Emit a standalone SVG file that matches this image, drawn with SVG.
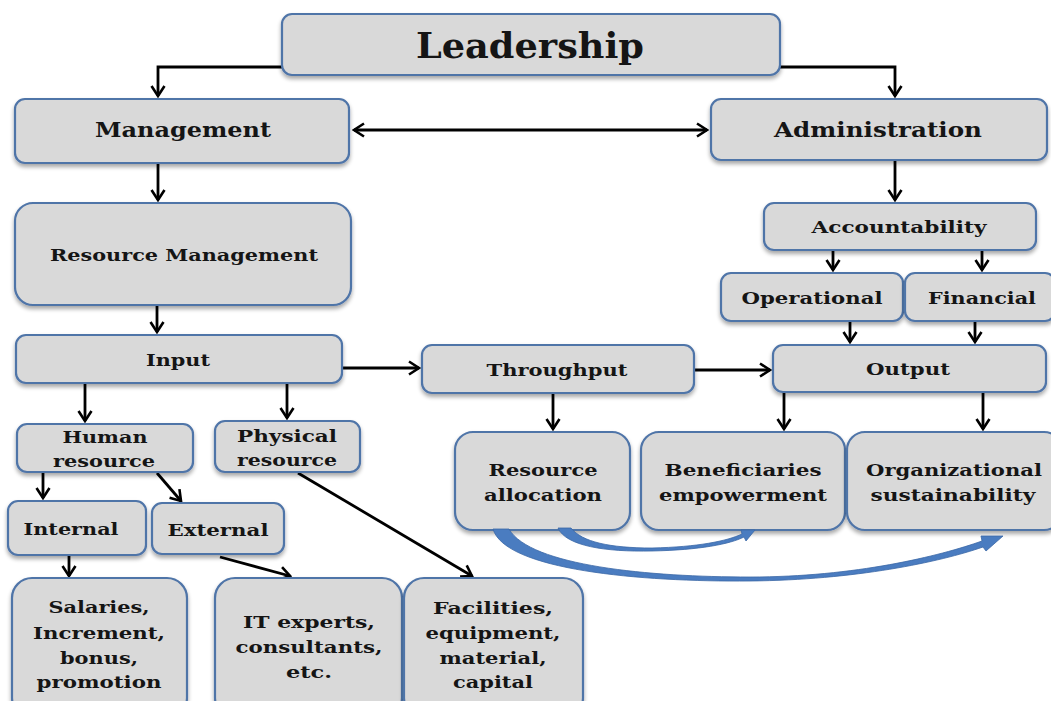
<svg xmlns="http://www.w3.org/2000/svg" width="1051" height="701" viewBox="0 0 1051 701">
  <defs>
    <marker id="arr" viewBox="-12 -8 14 16" markerWidth="14" markerHeight="16" refX="0" refY="0" orient="auto-start-reverse" markerUnits="userSpaceOnUse">
      <path d="M-10,-6.5 L0,0 L-10,6.5" fill="none" stroke="#000" stroke-width="2.6" stroke-linejoin="miter"/>
    </marker>
    <filter id="shadow" x="-5%" y="-10%" width="110%" height="130%">
      <feGaussianBlur in="SourceAlpha" stdDeviation="2"/>
      <feOffset dx="0" dy="2.5" result="b"/>
      <feComponentTransfer><feFuncA type="linear" slope="0.35"/></feComponentTransfer>
      <feMerge><feMergeNode/><feMergeNode in="SourceGraphic"/></feMerge>
    </filter>
  </defs>
  <style>
    .box { fill: #d9d9d9; stroke: #4f74a8; stroke-width: 2.2; filter: url(#shadow); }
    .t { font-family: "DejaVu Serif", "Liberation Serif", serif; font-weight: bold; font-size: 17px; fill: #151515; text-anchor: middle; dominant-baseline: central; }
    .big { font-size: 20px; }
    .title { font-size: 36px; }
    .c { fill: none; stroke: #000; stroke-width: 2.8; marker-end: url(#arr); }
    .flow { fill: #4a7cc0; stroke: #3a67a6; stroke-width: 0.8; }
  </style>

  <rect width="1051" height="701" fill="#fff"/>

  <!-- connectors -->
  <g id="connectors">
    <polyline class="c" points="282,67 158,67 158,96"/>
    <polyline class="c" points="780,67 895,67 895,96"/>
    <line class="c" x1="354" y1="130" x2="707" y2="130" marker-start="url(#arr)"/>
    <line class="c" x1="158" y1="163" x2="158" y2="200"/>
    <line class="c" x1="895" y1="160" x2="895" y2="200"/>
    <line class="c" x1="157" y1="305" x2="157" y2="332"/>
    <line class="c" x1="342" y1="368" x2="419" y2="368"/>
    <line class="c" x1="694" y1="370" x2="770" y2="370"/>
    <line class="c" x1="85" y1="383" x2="85" y2="421"/>
    <line class="c" x1="287" y1="383" x2="287" y2="418"/>
    <line class="c" x1="43" y1="472" x2="43" y2="498"/>
    <line class="c" x1="157" y1="473" x2="181" y2="501"/>
    <line class="c" x1="69" y1="555" x2="69" y2="576"/>
    <line class="c" x1="220" y1="557" x2="290" y2="576"/>
    <line class="c" x1="298" y1="473" x2="472" y2="576"/>
    <line class="c" x1="833" y1="250" x2="833" y2="270"/>
    <line class="c" x1="982" y1="250" x2="982" y2="270"/>
    <line class="c" x1="850" y1="321" x2="850" y2="342"/>
    <line class="c" x1="975" y1="321" x2="975" y2="342"/>
    <line class="c" x1="553" y1="393" x2="553" y2="429"/>
    <line class="c" x1="784" y1="392" x2="784" y2="429"/>
    <line class="c" x1="983" y1="392" x2="983" y2="429"/>
  </g>

  <!-- nodes -->
  <g id="leadership"><rect class="box" x="282" y="14" width="498" height="61" rx="10"/><text class="t title" x="530" y="45" textLength="228" lengthAdjust="spacingAndGlyphs">Leadership</text></g>
  <g id="management"><rect class="box" x="15" y="99" width="334" height="64" rx="10"/><text class="t big" x="183" y="130" textLength="176" lengthAdjust="spacingAndGlyphs">Management</text></g>
  <g id="administration"><rect class="box" x="711" y="99" width="336" height="61" rx="10"/><text class="t big" x="878" y="130" textLength="208" lengthAdjust="spacingAndGlyphs">Administration</text></g>
  <g id="resource-management"><rect class="box" x="15" y="203" width="336" height="102" rx="18"/><text class="t" x="184" y="255" textLength="268" lengthAdjust="spacingAndGlyphs">Resource Management</text></g>
  <g id="input"><rect class="box" x="16" y="335" width="326" height="48" rx="10"/><text class="t" x="178" y="360" textLength="64" lengthAdjust="spacingAndGlyphs">Input</text></g>
  <g id="throughput"><rect class="box" x="422" y="345" width="272" height="48" rx="10"/><text class="t" x="557" y="370" textLength="141" lengthAdjust="spacingAndGlyphs">Throughput</text></g>
  <g id="output"><rect class="box" x="773" y="345" width="273" height="47" rx="10"/><text class="t" x="908" y="369" textLength="84" lengthAdjust="spacingAndGlyphs">Output</text></g>
  <g id="accountability"><rect class="box" x="764" y="203" width="272" height="47" rx="10"/><text class="t" x="899" y="227" textLength="175" lengthAdjust="spacingAndGlyphs">Accountability</text></g>
  <g id="operational"><rect class="box" x="721" y="273" width="182" height="48" rx="10"/><text class="t" x="812" y="298" textLength="141" lengthAdjust="spacingAndGlyphs">Operational</text></g>
  <g id="financial"><rect class="box" x="905" y="273" width="150" height="48" rx="10"/><text class="t" x="982" y="298" textLength="108" lengthAdjust="spacingAndGlyphs">Financial</text></g>
  <g id="human-resource"><rect class="box" x="17" y="424" width="176" height="48" rx="10"/><text class="t" x="105" y="437" textLength="85" lengthAdjust="spacingAndGlyphs">Human</text><text class="t" x="104" y="461" textLength="102" lengthAdjust="spacingAndGlyphs">resource</text></g>
  <g id="physical-resource"><rect class="box" x="215" y="421" width="145" height="51" rx="10"/><text class="t" x="287" y="436" textLength="100" lengthAdjust="spacingAndGlyphs">Physical</text><text class="t" x="287" y="460" textLength="100" lengthAdjust="spacingAndGlyphs">resource</text></g>
  <g id="internal"><rect class="box" x="8" y="501" width="138" height="54" rx="10"/><text class="t" x="71" y="529" textLength="95" lengthAdjust="spacingAndGlyphs">Internal</text></g>
  <g id="external"><rect class="box" x="152" y="503" width="132" height="51" rx="10"/><text class="t" x="218" y="530" textLength="101" lengthAdjust="spacingAndGlyphs">External</text></g>
  <g id="salaries"><rect class="box" x="12" y="578" width="175" height="140" rx="20"/><text class="t" x="99" y="607" textLength="101" lengthAdjust="spacingAndGlyphs">Salaries,</text><text class="t" x="99" y="633" textLength="132" lengthAdjust="spacingAndGlyphs">Increment,</text><text class="t" x="99" y="658" textLength="78" lengthAdjust="spacingAndGlyphs">bonus,</text><text class="t" x="99" y="682" textLength="125" lengthAdjust="spacingAndGlyphs">promotion</text></g>
  <g id="it-experts"><rect class="box" x="215" y="578" width="187" height="140" rx="20"/><text class="t" x="309" y="622" textLength="132" lengthAdjust="spacingAndGlyphs">IT experts,</text><text class="t" x="309" y="647" textLength="147" lengthAdjust="spacingAndGlyphs">consultants,</text><text class="t" x="309" y="672" textLength="46" lengthAdjust="spacingAndGlyphs">etc.</text></g>
  <g id="facilities"><rect class="box" x="404" y="578" width="179" height="140" rx="20"/><text class="t" x="493" y="608" textLength="120" lengthAdjust="spacingAndGlyphs">Facilities,</text><text class="t" x="493" y="633" textLength="135" lengthAdjust="spacingAndGlyphs">equipment,</text><text class="t" x="493" y="658" textLength="107" lengthAdjust="spacingAndGlyphs">material,</text><text class="t" x="493" y="682" textLength="80" lengthAdjust="spacingAndGlyphs">capital</text></g>
  <g id="resource-allocation"><rect class="box" x="455" y="432" width="175" height="98" rx="18"/><text class="t" x="543" y="470" textLength="109" lengthAdjust="spacingAndGlyphs">Resource</text><text class="t" x="543" y="495" textLength="118" lengthAdjust="spacingAndGlyphs">allocation</text></g>
  <g id="beneficiaries"><rect class="box" x="641" y="432" width="204" height="98" rx="18"/><text class="t" x="743" y="470" textLength="157" lengthAdjust="spacingAndGlyphs">Beneficiaries</text><text class="t" x="743" y="495" textLength="168" lengthAdjust="spacingAndGlyphs">empowerment</text></g>
  <g id="organizational"><rect class="box" x="847" y="432" width="215" height="98" rx="18"/><text class="t" x="954" y="470" textLength="176" lengthAdjust="spacingAndGlyphs">Organizational</text><text class="t" x="953" y="495" textLength="165" lengthAdjust="spacingAndGlyphs">sustainability</text></g>

  <!-- tapered curved flows from resource allocation -->
  <g id="flows">
    <path class="flow" d="M558,528 C566,546 605,552 652,551 C700,550 730,544 744,537 L746,541 L755,530 L741,530 L742,534 C727,541 698,547 652,548 C610,548 582,542 571,528 Z"/>
    <path class="flow" d="M493,529 C505,570 640,582 750,581 C855,580 940,562 983,547 L986,551 L1003,536 L981,536 L982,541 C940,556 855,577 750,577 C650,577 530,566 509,529 Z"/>
  </g>
</svg>
